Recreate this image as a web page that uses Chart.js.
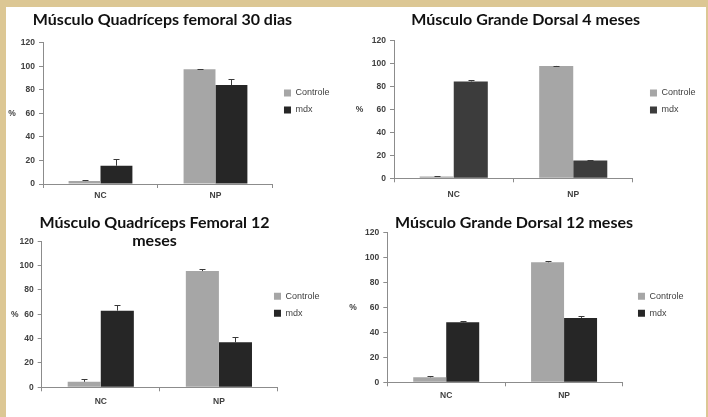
<!DOCTYPE html>
<html>
<head>
<meta charset="utf-8">
<script src="https://cdn.jsdelivr.net/npm/chart.js@4.4.1/dist/chart.umd.min.js"></script>
<style>
  html, body { margin: 0; padding: 0; }
  body { width: 708px; height: 417px; background: #dcc794; position: relative; overflow: hidden; }
  #sheet { position: absolute; left: 6px; top: 7px; width: 700px; height: 410px; background: #fff; }
  canvas { position: absolute; }
</style>
</head>
<body>
<div id="sheet"></div>
<canvas id="c1" width="344" height="200" style="left:6px;top:7px"></canvas>
<canvas id="c2" width="360" height="200" style="left:344px;top:7px"></canvas>
<canvas id="c3" width="344" height="207" style="left:6px;top:210px"></canvas>
<canvas id="c4" width="360" height="207" style="left:344px;top:210px"></canvas>
<script>
// data (percent, mean + upper error)
const categories = ['NC', 'NP'];
const seriesNames = ['Controle', 'mdx'];
const yMin = 0, yMax = 120, yStep = 20;

const quad30Controle = [2.5, 97.5];
const quad30ControleErr = [0.5, 0.4];
const quad30Mdx = [15.5, 84];
const quad30MdxErr = [6, 5.5];

const dorsal4Controle = [1.5, 98];
const dorsal4ControleErr = [0.4, 0.3];
const dorsal4Mdx = [84.5, 15.5];
const dorsal4MdxErr = [0.8, 0.3];

const quad12Controle = [4.5, 95.5];
const quad12ControleErr = [2, 2];
const quad12Mdx = [63, 37];
const quad12MdxErr = [4.5, 4.5];

const dorsal12Controle = [4, 96];
const dorsal12ControleErr = [1.2, 1];
const dorsal12Mdx = [48, 51.5];
const dorsal12MdxErr = [1, 1.2];

const controleColor = '#a6a6a6';
const tickFont = { family: 'Liberation Sans', size: 8.5, weight: 'bold' };

// draws the "plus" error bars on top of each bar
const errorBars = {
  id: 'errorBars',
  afterDatasetsDraw(chart) {
    const ctx = chart.ctx, y = chart.scales.y;
    chart.data.datasets.forEach((ds, i) => {
      chart.getDatasetMeta(i).data.forEach((bar, j) => {
        const top = Math.round(y.getPixelForValue(ds.data[j] + ds.errors[j])) + 0.5;
        const x = Math.round(bar.x) + 0.5;
        ctx.save();
        ctx.strokeStyle = '#3a3a3a';
        ctx.lineWidth = 1;
        ctx.beginPath();
        ctx.moveTo(x, bar.y);
        ctx.lineTo(x, top);
        ctx.moveTo(x - 3, top);
        ctx.lineTo(x + 3, top);
        ctx.stroke();
        ctx.restore();
      });
    });
  }
};

// "%" axis title, written horizontally like in the original
const pctLabel = {
  id: 'pctLabel',
  afterDraw(chart, args, o) {
    const a = chart.chartArea, ctx = chart.ctx;
    ctx.save();
    ctx.font = 'bold 8.5px "Liberation Sans"';
    ctx.fillStyle = '#404040';
    ctx.textAlign = 'center';
    ctx.textBaseline = 'middle';
    ctx.fillText('%', a.left - o.offset, (a.top + a.bottom) / 2);
    ctx.restore();
  }
};

// move title / legend a bit, Excel places them loosely
const nudge = {
  id: 'nudge',
  afterLayout(chart, args, o) {
    const t = chart.titleBlock;
    if (t) {
      const half = (t.right - t.left) / 2;
      t.left = o.titleX - half;
      t.right = o.titleX + half;
    }
    const l = chart.legend;
    if (l) {
      l.left += o.legendDx; l.right += o.legendDx;
      l.top += o.legendDy; l.bottom += o.legendDy;
    }
  }
};

function makeChart(p) {
  return new Chart(document.getElementById(p.id), {
    type: 'bar',
    data: {
      labels: categories,
      datasets: [
        { label: seriesNames[0], data: p.controle, errors: p.controleErr, backgroundColor: controleColor },
        { label: seriesNames[1], data: p.mdx, errors: p.mdxErr, backgroundColor: p.mdxColor }
      ]
    },
    options: {
      responsive: false,
      animation: false,
      devicePixelRatio: 1,
      datasets: { bar: { barPercentage: 1, categoryPercentage: p.cat } },
      layout: { padding: { left: 0, top: 0, bottom: 0, right: p.padR } },
      scales: {
        x: {
          afterFit: s => { s.height = p.xH; },
          grid: { drawOnChartArea: false, tickLength: 4, color: '#8c8c8c' },
          border: { color: '#8c8c8c' },
          ticks: { font: tickFont, color: '#404040', padding: p.xPad }
        },
        y: {
          min: yMin, max: yMax,
          afterFit: s => { s.width = p.yW; },
          grid: { drawOnChartArea: false, tickLength: 4, color: '#8c8c8c' },
          border: { color: '#8c8c8c' },
          ticks: { stepSize: yStep, font: tickFont, color: '#404040', padding: 4 }
        }
      },
      plugins: {
        title: {
          display: true,
          text: p.title,
          color: '#111',
          font: { family: 'Lato', size: 16, weight: 'bold', lineHeight: 1.125 },
          padding: p.titlePad
        },
        legend: {
          position: 'right',
          labels: {
            boxWidth: 7, boxHeight: 7, padding: 8,
            color: '#404040',
            font: { family: 'Liberation Sans', size: 9 }
          }
        },
        tooltip: { enabled: false },
        nudge: { titleX: p.titleX, legendDx: p.legendDx, legendDy: p.legendDy },
        pctLabel: { offset: p.pctOffset }
      }
    },
    plugins: [errorBars, pctLabel, nudge]
  });
}

makeChart({
  id: 'c1', title: 'Músculo Quadríceps femoral 30 dias',
  controle: quad30Controle, controleErr: quad30ControleErr,
  mdx: quad30Mdx, mdxErr: quad30MdxErr, mdxColor: '#262626',
  titleX: 156.5, titlePad: { top: 4, bottom: 13.7 },
  yW: 37, xH: 23, xPad: 3, padR: 13.5, legendDx: 3, legendDy: -5.5, pctOffset: 31, cat: 0.555
});
makeChart({
  id: 'c2', title: 'Músculo Grande Dorsal 4 meses',
  controle: dorsal4Controle, controleErr: dorsal4ControleErr,
  mdx: dorsal4Mdx, mdxErr: dorsal4MdxErr, mdxColor: '#3c3c3c',
  titleX: 181.7, titlePad: { top: 4, bottom: 11.7 },
  yW: 50, xH: 28.7, xPad: 7, padR: 7.5, legendDx: 9, legendDy: -5.5, pctOffset: 34.5, cat: 0.57
});
makeChart({
  id: 'c3', title: ['Músculo Quadríceps Femoral 12', 'meses'],
  controle: quad12Controle, controleErr: quad12ControleErr,
  mdx: quad12Mdx, mdxErr: quad12MdxErr, mdxColor: '#262626',
  titleX: 148.5, titlePad: { top: 4, bottom: -8.7 },
  yW: 35.7, xH: 29.7, xPad: 5, padR: 8.5, legendDx: -12, legendDy: -8.7, pctOffset: 27, cat: 0.56
});
makeChart({
  id: 'c4', title: 'Músculo Grande Dorsal 12 meses',
  controle: dorsal12Controle, controleErr: dorsal12ControleErr,
  mdx: dorsal12Mdx, mdxErr: dorsal12MdxErr, mdxColor: '#262626',
  titleX: 170, titlePad: { top: 4, bottom: 0.3 },
  yW: 43.3, xH: 34.7, xPad: 4, padR: 17.5, legendDx: 7, legendDy: -8.7, pctOffset: 34.3, cat: 0.56
});
</script>
</body>
</html>
